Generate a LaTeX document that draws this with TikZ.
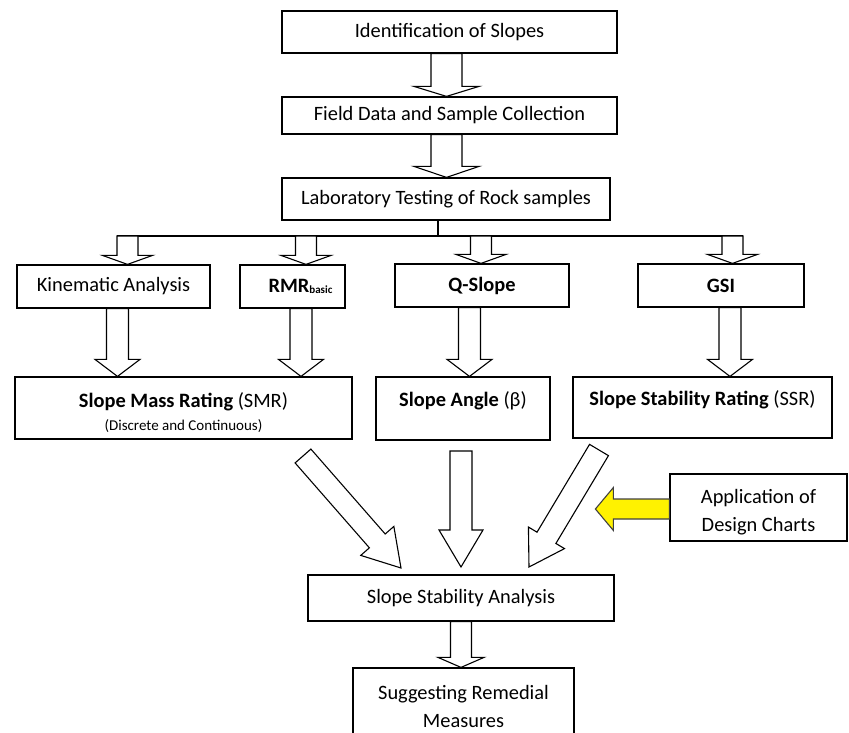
\documentclass[tikz,border=0pt]{standalone}
\usepackage{fontspec}
\setmainfont{Carlito}
\usetikzlibrary{calc}
\newcommand{\bigtext}{\fontsize{20.4}{28}\selectfont}
\newcommand{\smalltext}{\fontsize{15}{18}\selectfont}
\tikzset{
  box/.style={draw, line width=1.2pt, inner sep=0pt, align=center, font=\bigtext},
  toptext/.style={text depth=18pt},
  blockarrow/.style={draw, line width=1.1pt, fill=white, line join=miter},
  bus/.style={line width=1.2pt}
}
% block arrow: [style] start, tip, half shaft, half head, head length
\newcommand\fatarrow[6][]{%
  \coordinate (fa) at ($(#3)!#6!(#2)$);
  \draw[blockarrow,#1] ($(#2)!#4!90:(#3)$) -- ($(fa)!#4!90:(#3)$) -- ($(fa)!#5!90:(#3)$) -- (#3)
    -- ($(fa)!#5!-90:(#3)$) -- ($(fa)!#4!-90:(#3)$) -- ($(#2)!#4!-90:(#3)$) -- cycle;
}
\begin{document}
\begin{tikzpicture}[x=1pt,y=-1pt]
   \clip (0,0) rectangle (849,733);

   \node[box, minimum width=335pt, minimum height=42pt] (ident) at (449.5,32) {Identification of Slopes};
   \node[box, minimum width=335pt, minimum height=37pt] (field) at (449.5,115.5) {Field Data and Sample Collection};
   \node[box, minimum width=328pt, minimum height=42pt] (lab) at (446,199) {Laboratory Testing of Rock samples};

   \node[box, minimum width=193pt, minimum height=43pt] (kin) at (113.5,286.5) {Kinematic Analysis};
   \node[box, minimum width=105pt, minimum height=43pt] (rmr) at (292.5,286.5)
     {\hspace*{16pt}\textbf{RMR}\raisebox{-1.5pt}{\fontsize{11}{11}\selectfont\bfseries basic}};
   \node[box, minimum width=174pt, minimum height=43pt] (qslope) at (482,285.5) {\textbf{Q-Slope}};
   \node[box, minimum width=166pt, minimum height=43pt] (gsi) at (721,285.5) {\textbf{GSI}};

   \node[box, minimum width=337pt, minimum height=62pt] (smr) at (183.5,408)
     {\rule{0pt}{24pt}\textbf{Slope Mass Rating} (SMR)\\[-5pt]{\smalltext (Discrete and Continuous)}};
   \node[box, toptext, minimum width=174pt, minimum height=63pt] (angle) at (463,408.5) {\textbf{Slope Angle} (β)};
   \node[box, toptext, minimum width=259pt, minimum height=61pt] (ssr) at (702.5,407.5) {\textbf{Slope Stability Rating} (SSR)};

   \node[box, minimum width=177pt, minimum height=67pt] (charts) at (758.5,507.5) {\rule{0pt}{24pt}Application of\\Design Charts};
   \node[box, minimum width=306pt, minimum height=46pt] (ssa) at (461,598) {Slope Stability Analysis};
   \node[box, minimum width=221pt, minimum height=77pt] (remedy) at (463.5,706.5) {Suggesting Remedial\\Measures};

   % top chain
   \coordinate (s1) at ([xshift=-3pt]ident.south);
   \coordinate (e1) at (s1 |- field.north);
   \fatarrow{s1}{e1}{15.5pt}{32.5pt}{10pt}
   \coordinate (s2) at (s1 |- field.south);
   \coordinate (e2) at (s1 |- lab.north);
   \fatarrow{s2}{e2}{15.5pt}{32.5pt}{11pt}

   % bus
   \coordinate (busl) at (117,236);
   \coordinate (busr) at (743,236);
   \coordinate (trunk) at ([xshift=-8pt]lab.south);
   \draw[bus] (trunk) -- (trunk |- busl);
   \draw[bus] (busl) -- (busr);

   \coordinate (k0) at (127.5,236); \coordinate (k1) at (k0 |- kin.north);
   \coordinate (r0) at (306,236);   \coordinate (r1) at (r0 |- rmr.north);
   \coordinate (q0) at (481,236);   \coordinate (q1) at (q0 |- qslope.north);
   \coordinate (g0) at (732.5,236); \coordinate (g1) at (g0 |- gsi.north);
   \foreach \a in {k,r,q,g} {\fatarrow{\a0}{\a1}{10.5pt}{25pt}{9pt}}

   \coordinate (k2) at ([xshift=4pt]kin.south);      \coordinate (k3) at (k2 |- smr.north);
   \coordinate (r2) at ([xshift=8.5pt]rmr.south);    \coordinate (r3) at (r2 |- smr.north);
   \coordinate (q2) at ([xshift=-12.5pt]qslope.south); \coordinate (q3) at (q2 |- angle.north);
   \coordinate (g2) at ([xshift=9pt]gsi.south);      \coordinate (g3) at (g2 |- ssr.north);
   \foreach \a in {k,r,q,g} {\fatarrow{\a2}{\a3}{11pt}{22.5pt}{17pt}}

   % into the analysis
   \coordinate (d1) at (303,456); \coordinate (d2) at (401,568);
   \coordinate (m1) at (461,451); \coordinate (m2) at (461,567);
   \coordinate (f1) at (599,450); \coordinate (f2) at (529,567);
   \fatarrow{d1}{d2}{10.5pt}{22pt}{36pt}
   \fatarrow{m1}{m2}{11pt}{22pt}{37pt}
   \fatarrow{f1}{f2}{11pt}{21pt}{34pt}

   \coordinate (y0) at ([yshift=-1.5pt]charts.west);
   \coordinate (y1) at ($(y0)+(-74,0)$);
   \fatarrow[fill=yellow, draw=black!75]{y0}{y1}{10pt}{21.5pt}{18pt}

   \coordinate (b0) at (ssa.south);
   \coordinate (b1) at (b0 |- remedy.north);
   \fatarrow{b0}{b1}{10.5pt}{23pt}{10pt}
 \end{tikzpicture}
\end{document}
